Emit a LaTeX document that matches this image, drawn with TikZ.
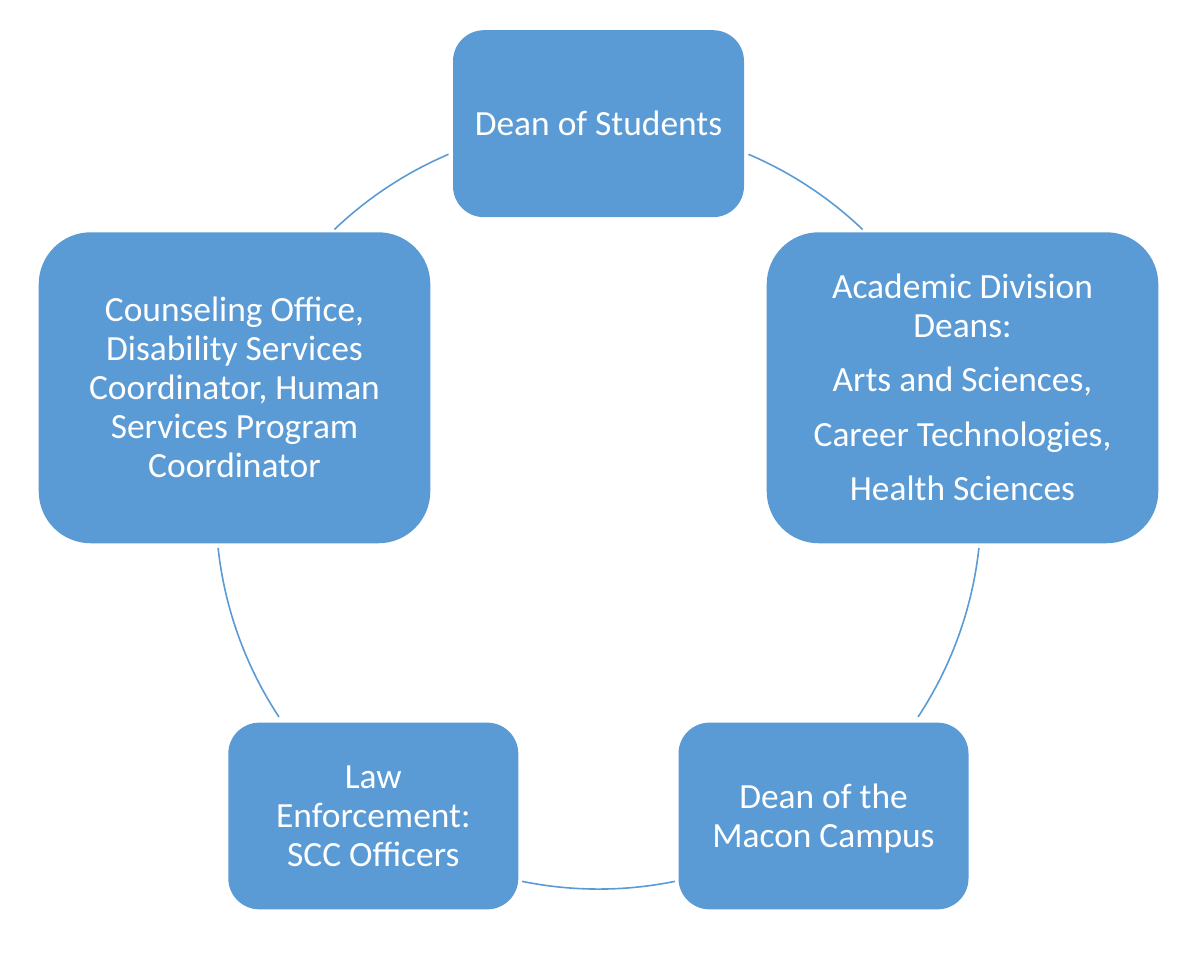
\documentclass[tikz,border=0pt]{standalone}
\usepackage{fontspec}
\setmainfont{Carlito}
\definecolor{boxblue}{RGB}{91,155,213}
\definecolor{lineblue}{RGB}{91,155,213}
\newcommand\vs{\rule[-7.4pt]{0pt}{38.4pt}}
\tikzset{
  cyclebox/.style={fill=boxblue, draw=none, text=white, align=center,
    font=\fontsize{35.4}{39}\selectfont, inner sep=0pt},
  cyclearc/.style={draw=lineblue, line width=1.6pt}
}
\begin{document}
\begin{tikzpicture}[x=1pt,y=1pt]
\useasboundingbox (0,0) rectangle (1200,960);
% boxes (y measured upward: y = 960 - pixel y)
\node[cyclebox, minimum width=291pt, minimum height=187pt, rounded corners=31pt] (dos) at (598.5,836.3) {\vs Dean of Students};
\node[cyclebox, minimum width=391.6pt, minimum height=311pt, rounded corners=52pt] (acad) at (962.5,572.2)
  {\vs Academic Division\\\vs Deans:\\[15.5pt]\vs Arts and Sciences,\\[15.5pt]\vs Career Technologies,\\[15.5pt]\vs Health Sciences};
\node[cyclebox, minimum width=290pt, minimum height=186.7pt, rounded corners=31pt] (macon) at (823.5,144) {\vs Dean of the\\\vs Macon Campus};
\node[cyclebox, minimum width=290pt, minimum height=186.7pt, rounded corners=31pt] (law) at (373.3,144) {\vs Law\\\vs Enforcement:\\\vs SCC Officers};
\node[cyclebox, minimum width=391.6pt, minimum height=311pt, rounded corners=52pt] (couns) at (234.5,572.2)
  {\vs Counseling Office,\\\vs Disability Services\\\vs Coordinator, Human\\\vs Services Program\\\vs Coordinator};
% circle centre
\coordinate (ctr) at (598.5,453.6);
\def\R{382.7}
% connectors (arcs of the cycle)
\draw[cyclearc] ([shift={(66.93:\R)}]ctr) arc[start angle=66.93, end angle=46.36, radius=\R];
\draw[cyclearc] ([shift={(-6.24:\R)}]ctr) arc[start angle=-6.24, end angle=-33.39, radius=\R];
\draw[cyclearc] ([shift={(-78.49:\R)}]ctr) arc[start angle=-78.49, end angle=-101.51, radius=\R];
\draw[cyclearc] ([shift={(213.39:\R)}]ctr) arc[start angle=213.39, end angle=186.24, radius=\R];
\draw[cyclearc] ([shift={(133.64:\R)}]ctr) arc[start angle=133.64, end angle=113.07, radius=\R];
\end{tikzpicture}
\end{document}
